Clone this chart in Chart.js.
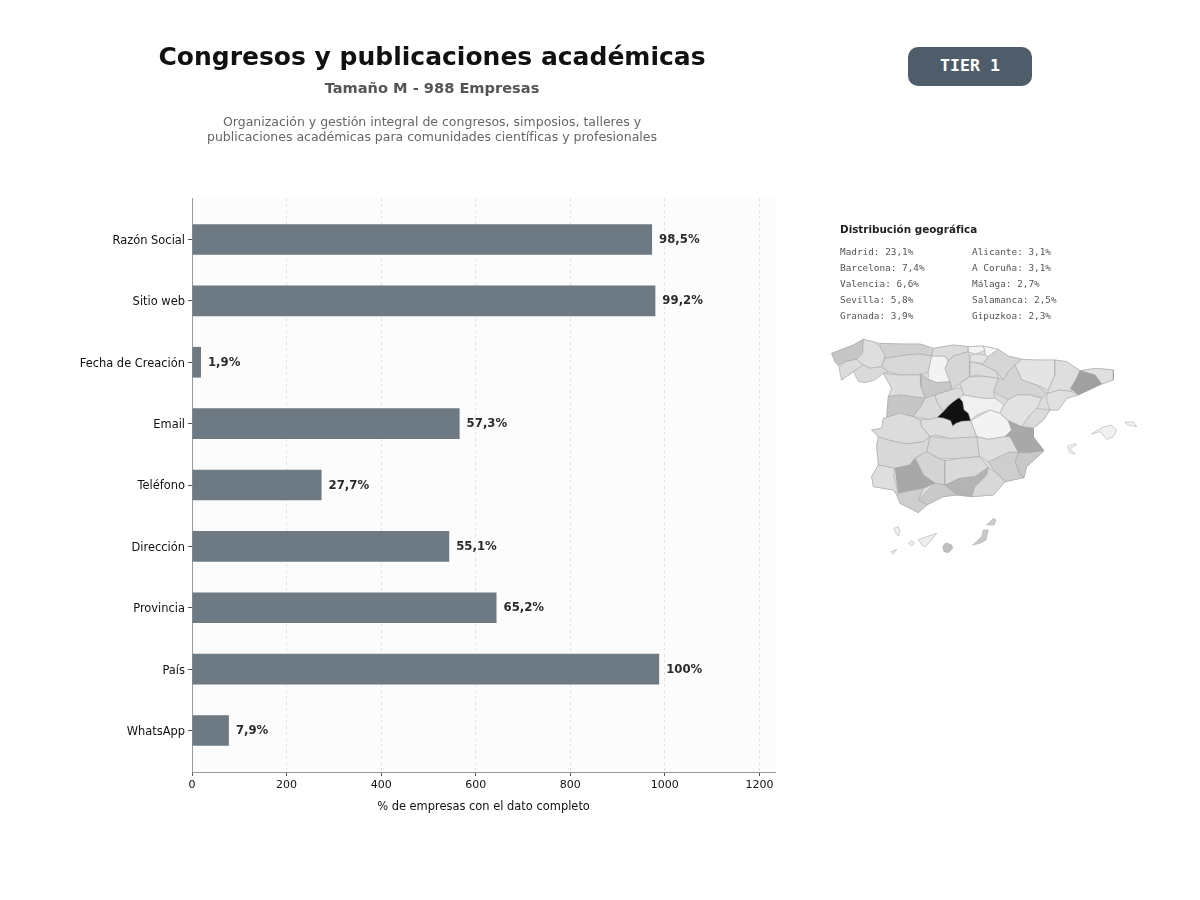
<!DOCTYPE html>
<html lang="es"><head><meta charset="utf-8">
<script src="https://cdn.jsdelivr.net/npm/chart.js@4"></script>
<style>
html,body{margin:0;padding:0;background:#fff;width:1200px;height:900px;overflow:hidden;font-family:"DejaVu Sans",sans-serif}
.t{position:absolute;white-space:nowrap}
.c{transform:translateX(-50%);text-align:center}
#chart{position:absolute;left:0;top:0}
#mapWrap{position:absolute;left:820px;top:330px;width:330px;height:235px;filter:blur(.35px)}
#badge{position:absolute;left:908px;top:47px;width:124px;height:39px;border-radius:10px;background:#4f5d6b;color:#fff;font:bold 16.6px/38px "DejaVu Sans Mono",monospace;text-align:center}
.m{font:9.4px/12px "DejaVu Sans Mono",monospace;color:#555}
</style></head><body>
<canvas id="chart" width="1200" height="900" style="width:1200px;height:900px"></canvas>
<div id="mapWrap"><canvas id="map" width="330" height="235" style="width:330px;height:235px"></canvas></div>
<div class="t c" style="left:432px;top:41px;font-weight:bold;font-size:25px;line-height:32px;color:#111">Congresos y publicaciones académicas</div>
<div class="t c" style="left:432px;top:78px;font-weight:bold;font-size:14.6px;line-height:20px;color:#555">Tamaño M - 988 Empresas</div>
<div class="t c" style="left:432px;top:114px;font-size:12.5px;line-height:15px;color:#666">Organización y gestión integral de congresos, simposios, talleres y<br>publicaciones académicas para comunidades científicas y profesionales</div>
<div id="badge">TIER 1</div>
<div class="t" style="left:840px;top:222px;font-weight:bold;font-size:10.4px;line-height:14px;color:#222">Distribución geográfica</div>
<div id="geo"></div>
<script>
const categories=['Razón Social','Sitio web','Fecha de Creación','Email','Teléfono','Dirección','Provincia','País','WhatsApp'];
const companyCounts=[973,980,19,566,274,544,644,988,78];
const percentLabels=['98,5%','99,2%','1,9%','57,3%','27,7%','55,1%','65,2%','100%','7,9%'];
const xTicks=[0,200,400,600,800,1000,1200];
const geoLeft=['Madrid: 23,1%','Barcelona: 7,4%','Valencia: 6,6%','Sevilla: 5,8%','Granada: 3,9%'];
const geoRight=['Alicante: 3,1%','A Coruña: 3,1%','Málaga: 2,7%','Salamanca: 2,5%','Gipuzkoa: 2,3%'];

const provinceNames=['Península','A Coruña','Lugo','Pontevedra','Ourense','Asturias','León','Palencia','Cantabria','Burgos','Bizkaia','Gipuzkoa','Álava','Navarra','La Rioja','Huesca','Zaragoza','Lleida','Girona','Barcelona','Tarragona','Soria','Segovia','Valladolid','Zamora','Salamanca','Ávila','Guadalajara','Cuenca','Teruel','Castellón','Valencia','Alicante','Murcia','Albacete','Ciudad Real','Toledo','Cáceres','Badajoz','Córdoba','Jaén','Granada','Almería','Málaga','Sevilla','Huelva','Cádiz','Madrid','Mallorca','Menorca','Ibiza','La Palma','La Gomera','Tenerife','Gran Canaria','Fuerteventura','Lanzarote','El Hierro'];
const provinceShades=['#dcdcdc','#c6c6c6','#dedede','#dcdcdc','#dadada','#d0d0d0','#d8d8d8','#f3f3f3','#dcdcdc','#d6d6d6','#f2f2f2','#f5f5f5','#e3e3e3','#d6d6d6','#dcdcdc','#e4e4e4','#d4d4d4','#dedede','#e0e0e0','#a0a0a0','#e0e0e0','#dedede','#dcdcdc','#c8c8c8','#dcdcdc','#c6c6c6','#dadada','#f0f0f0','#f3f3f3','#e2e2e2','#dadada','#a8a8a8','#c8c8c8','#cecece','#dedede','#d8d8d8','#dedede','#dcdcdc','#d8d8d8','#d4d4d4','#dadada','#b4b4b4','#d8d8d8','#cacaca','#a8a8a8','#dedede','#cecece','#111111','#f0f0f0','#f5f5f5','#f6f6f6','#f0f0f0','#f0f0f0','#eeeeee','#bfbfbf','#c8c8c8','#cccccc','#f0f0f0'];
const provinceOutlines=[
[35,70,60,60,100,45,130,28,180,40,240,42,300,42,340,55,400,45,445,50,490,48,535,58,565,78,605,88,645,90,705,90,740,95,780,122,830,115,880,120,880,150,845,162,775,195,740,205,715,240,690,240,670,270,640,295,640,320,672,362,620,410,612,443,555,455,520,495,455,500,410,495,370,500,320,525,295,548,270,535,240,520,230,495,220,480,160,470,155,440,175,405,170,345,175,320,155,300,185,295,190,265,200,262,205,200,215,175,190,130,135,158,100,125,65,150,58,112,45,95],
[35,70,60,60,100,45,130,28,128,70,110,88,75,95,55,105,45,95],
[130,28,160,35,180,50,195,75,185,110,150,115,130,105,110,88,128,70],
[58,112,75,95,110,88,130,105,100,125,65,150,60,130],
[100,125,130,105,150,115,185,110,205,125,190,130,165,150,135,158,115,155],
[180,40,240,42,300,42,340,55,335,78,300,72,260,75,195,85,195,75,180,50],
[195,85,260,75,300,72,335,78,325,125,300,135,240,135,205,125,185,110],
[335,78,375,78,385,95,375,115,390,155,350,158,325,148,325,125],
[340,55,400,45,445,50,445,65,400,78,385,92,375,78,335,78],
[385,92,400,78,445,65,450,95,450,140,420,160,395,178,390,155,375,115],
[445,50,490,48,495,62,465,72,445,65],
[490,48,535,58,505,80,495,75,495,62],
[450,78,465,72,495,75,505,80,490,100,450,95],
[505,80,535,58,565,78,605,88,585,105,565,125,550,150,530,125,490,105,490,100],
[450,95,490,105,530,125,535,145,500,140,470,135,450,140],
[605,88,645,90,705,90,705,135,685,180,650,165,605,150,585,105],
[535,145,550,150,565,125,585,105,605,150,650,165,680,190,665,205,630,195,590,195,565,210,520,185],
[705,90,740,95,780,122,770,145,752,175,755,185,720,180,682,190,685,180,705,135],
[780,122,830,115,880,120,880,150,845,162,825,135],
[780,122,825,135,845,162,775,195,752,175,770,145],
[755,185,775,195,740,205,715,240,690,240,680,210,682,190,720,180],
[450,140,500,140,535,145,520,185,525,205,490,205,430,195,425,175,420,160],
[345,195,395,178,425,175,430,195,420,205,385,225,370,245,350,215],
[300,130,325,148,350,158,390,155,395,178,345,195,315,205,303,170],
[190,130,240,135,300,135,303,170,315,205,240,195,205,200,215,175],
[205,200,240,195,315,205,305,225,280,260,240,250,200,262],
[315,205,345,195,350,215,370,245,355,262,330,268,280,260,305,225],
[430,195,490,205,525,205,552,225,540,250,510,240,470,255,452,272,430,235,420,205],
[452,272,510,240,540,250,565,272,575,300,555,320,505,328,470,320],
[565,210,590,195,630,195,665,205,650,235,630,255,605,290,565,272,540,250,552,225],
[650,235,690,240,670,270,640,295,605,290,630,255],
[565,272,605,290,640,295,640,320,672,362,625,368,595,368,570,320,555,320,575,300],
[595,368,625,368,672,362,620,410,612,443,600,435,585,395],
[505,395,570,365,595,368,585,395,600,435,612,443,555,455,525,425],
[470,320,505,328,555,320,570,320,595,368,570,365,505,395,490,385,478,380],
[330,320,390,325,470,320,478,380,420,385,355,385,320,365],
[300,270,330,268,355,262,395,268,452,272,470,320,390,325,345,315,330,320,305,290],
[155,300,185,295,190,265,200,262,240,250,280,260,300,270,305,290,330,320,310,335,260,342,205,330,175,320],
[170,345,175,320,205,330,260,342,310,335,330,320,320,365,285,385,270,405,225,415,175,405],
[285,385,320,365,355,385,375,392,375,465,345,460,310,435],
[375,392,420,385,478,380,505,412,465,440,420,445,375,465],
[375,465,420,445,465,440,505,412,500,435,465,470,455,500,410,495],
[505,412,525,425,555,455,520,495,455,500,465,470,500,435],
[295,510,345,460,375,465,410,495,370,500,320,525],
[225,415,270,405,285,385,310,435,345,460,310,475,280,480,235,490],
[155,440,175,405,225,415,220,435,235,490,220,480,160,470],
[230,495,235,490,280,480,310,475,295,510,320,525,295,548,270,535,240,520],
[417,203,428,215,432,240,445,250,452,272,425,274,408,280,398,288,392,272,370,264,352,262,372,243,385,228,400,215],
[815,312,850,290,875,285,890,300,880,320,860,328,840,305],
[915,278,940,275,950,290,925,285],
[742,350,765,340,770,345,750,355,765,372,750,368],
[222,595,235,590,240,605,235,618,225,605],
[265,640,275,632,283,640,275,648],
[295,628,350,610,330,635,315,650,305,645],
[368,650,378,638,395,645,398,655,385,668,372,665],
[458,645,485,620,490,600,505,600,498,630,480,640],
[500,585,520,565,528,570,522,585],
[212,665,230,658,220,672]
];

const geoBox=document.getElementById('geo');
function addGeoColumn(list,left){
  list.forEach((text,i)=>{
    const d=document.createElement('div');
    d.className='t m';d.textContent=text;
    d.style.left=left+'px';d.style.top=(246+i*16.1)+'px';
    geoBox.appendChild(d);
  });
}
addGeoColumn(geoLeft,840);addGeoColumn(geoRight,972);

const plotBackground={id:'plotBackground',beforeDraw(c){
  const a=c.chartArea,x=c.ctx;x.save();x.fillStyle='#fcfcfc';x.fillRect(a.left,a.top,a.width,a.height);x.restore();
}};
const barLabels={id:'barLabels',afterDatasetsDraw(c){
  const x=c.ctx;x.save();x.font='bold 11.7px "DejaVu Sans"';x.fillStyle='#2b2b2b';x.textBaseline='middle';
  c.getDatasetMeta(0).data.forEach((b,i)=>x.fillText(percentLabels[i],b.x+7,b.y+0.5));
  x.restore();
}};
new Chart(document.getElementById('chart'),{
  type:'bar',
  data:{datasets:[{data:companyCounts.map((v,i)=>({x:v,y:i})),backgroundColor:'#6d7a84',barPercentage:.5,categoryPercentage:1}]},
  plugins:[plotBackground,barLabels],
  options:{
    indexAxis:'y',responsive:false,animation:false,devicePixelRatio:1,
    layout:{padding:{left:0,top:198,right:425,bottom:86}},
    plugins:{legend:{display:false},tooltip:{enabled:false}},
    scales:{
      x:{type:'linear',min:0,max:1233,position:'bottom',
        afterBuildTicks:s=>{s.ticks=xTicks.map(v=>({value:v}))},
        afterFit:s=>{s.height=42},
        grid:{color:'#e4e4e4',tickColor:'#555',tickLength:4,tickBorderDash:[],lineWidth:1},
        border:{color:'#999',width:1,dash:[3,3]},
        ticks:{color:'#111',font:{family:'"DejaVu Sans"',size:11},padding:3,maxRotation:0,callback:v=>String(v)},
        title:{display:true,text:'% de empresas con el dato completo',color:'#111',font:{family:'"DejaVu Sans"',size:11.45},padding:{top:6,bottom:0}}
      },
      y:{type:'linear',reverse:true,min:-.676,max:8.676,offset:false,
        afterBuildTicks:s=>{s.ticks=categories.map((_,i)=>({value:i}))},
        afterFit:s=>{s.width=192},
        grid:{offset:false,drawOnChartArea:false,tickColor:'#555',tickLength:4},
        border:{color:'#999',width:1},
        ticks:{autoSkip:false,color:'#111',font:{family:'"DejaVu Sans"',size:11.45},padding:3,labelOffset:1.5,callback:v=>categories[v]}
      }
    }
  }
});

new Chart(document.getElementById('map'),{
  type:'scatter',
  data:{datasets:provinceOutlines.map((flat,p)=>{
    const pts=[];
    for(let i=0;i<flat.length;i+=2)pts.push({x:flat[i],y:flat[i+1]});
    pts.push(pts[0]);
    return {label:provinceNames[p],data:pts,showLine:true,fill:'shape',tension:0,pointRadius:0,order:provinceOutlines.length-p,
      backgroundColor:provinceShades[p],borderColor:'#a0a0a0',borderWidth:.5};
  })},
  options:{
    responsive:false,animation:false,devicePixelRatio:1,
    layout:{padding:0},
    plugins:{legend:{display:false},tooltip:{enabled:false}},
    scales:{x:{type:'linear',display:false,min:0,max:990},y:{type:'linear',display:false,reverse:true,min:0,max:705}}
  }
});
</script>
</body></html>
